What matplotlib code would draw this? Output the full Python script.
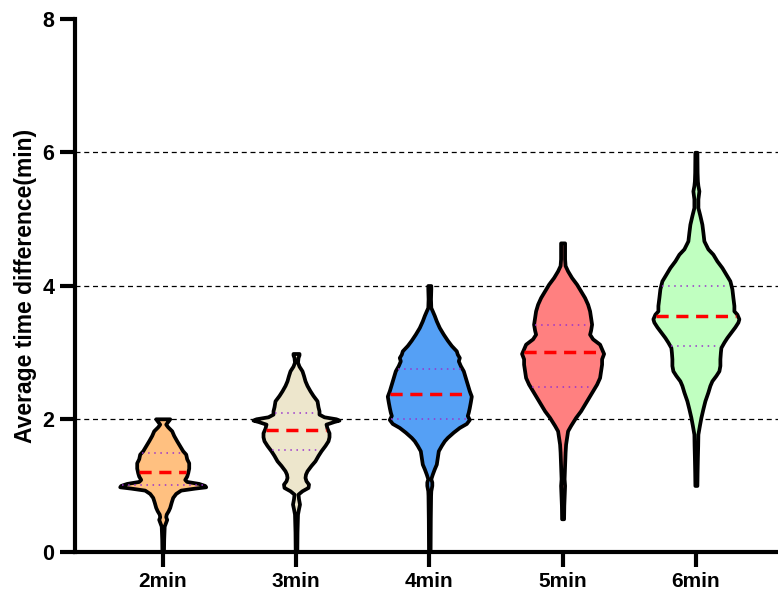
import numpy as np
import matplotlib
matplotlib.use("Agg")
import matplotlib.pyplot as plt

# ----------------------------------------------

groups = ["2min", "3min", "4min", "5min", "6min"]
colors = ["#FFC080", "#EDE6CC", "#55A0F5", "#FF8080", "#C0FFC0"]

medians = [1.20, 1.83, 2.37, 3.00, 3.55]
q1 = [1.00, 1.53, 2.00, 2.48, 3.10]
q3 = [1.48, 2.08, 2.75, 3.41, 4.00]

# violin outlines: value levels and half widths (pixels at 133 px per category)
y_2min = [0.00, 0.20, 0.39, 0.45, 0.49, 0.53, 0.57, 0.62, 0.67, 0.75, 0.82, 0.88, 0.93, 0.96,
          0.98, 1.00, 1.03, 1.06, 1.09, 1.14, 1.19, 1.26, 1.34, 1.40, 1.47, 1.52, 1.57, 1.62,
          1.67, 1.75, 1.82, 1.88, 1.92, 1.96, 2.00]
w_2min = [0.8, 1.0, 1.5, 3, 4, 3, 3.5, 5.5, 7, 8.5, 10, 13, 18, 32,
          43, 42, 36, 24, 22, 24, 25, 26, 26, 24, 23, 20, 18, 16,
          14, 11, 9, 5, 3, 5, 7]

y_3min = [0.00, 0.30, 0.57, 0.65, 0.72, 0.80, 0.87, 0.92, 0.97, 1.02, 1.07, 1.12, 1.17, 1.22,
          1.30, 1.37, 1.45, 1.52, 1.60, 1.67, 1.73, 1.79, 1.86, 1.92, 1.96, 1.98, 2.00, 2.03,
          2.07, 2.12, 2.18, 2.27, 2.35, 2.42, 2.50, 2.57, 2.65, 2.72, 2.79, 2.85, 2.92, 2.96,
          2.98]
w_3min = [0.8, 1.0, 1.5, 2.5, 3.5, 2.5, 2, 6, 12, 12.5, 10, 9, 9.5, 11,
          15, 19, 22, 25, 29, 32, 33, 33, 31, 30, 38, 43, 40, 28,
          23, 23, 22, 21, 17, 14, 11, 9, 7.5, 6, 3, 1.5, 2, 3,
          3]

y_4min = [0.00, 0.50, 0.85, 0.92, 1.00, 1.05, 1.10, 1.17, 1.25, 1.32, 1.42, 1.52, 1.60, 1.67,
          1.72, 1.80, 1.87, 1.93, 1.99, 2.05, 2.10, 2.17, 2.25, 2.34, 2.42, 2.52, 2.62, 2.72,
          2.80, 2.87, 2.92, 2.97, 3.02, 3.10, 3.18, 3.27, 3.37, 3.47, 3.55, 3.62, 3.67, 3.80,
          3.95, 4.00]
w_4min = [0.8, 1.0, 1.3, 1.5, 2.5, 2.5, 1.5, 3, 5, 7, 8, 9, 12, 15,
          18, 24, 30, 37, 40, 38, 39, 40, 41, 42, 40, 38, 36, 34,
          31, 29, 30, 28, 27, 22, 18, 14, 10, 7, 5, 3, 1.5, 1.2,
          1.5, 1.5]

y_5min = [0.50, 0.70, 1.00, 1.10, 1.30, 1.50, 1.62, 1.72, 1.82, 1.90, 2.02, 2.12, 2.22, 2.32,
          2.42, 2.52, 2.62, 2.72, 2.82, 2.90, 2.98, 3.05, 3.12, 3.20, 3.27, 3.33, 3.42, 3.52,
          3.62, 3.72, 3.82, 3.92, 4.02, 4.12, 4.22, 4.30, 4.40, 4.55, 4.64]
w_5min = [1.0, 1.2, 2, 1.5, 2, 2.5, 3, 4, 5, 8, 13, 18, 22, 26,
          30, 34, 37, 38, 39, 39, 41, 39, 37, 30, 27, 28, 29, 28,
          27, 25, 22, 18, 14, 9, 5, 2.5, 2, 2, 2]

y_6min = [1.00, 1.20, 1.42, 1.60, 1.77, 1.90, 2.02, 2.15, 2.27, 2.40, 2.50, 2.57, 2.65, 2.72,
          2.80, 2.90, 3.00, 3.07, 3.15, 3.22, 3.30, 3.38, 3.45, 3.50, 3.57, 3.62, 3.70, 3.82,
          3.95, 4.07, 4.17, 4.27, 4.37, 4.47, 4.55, 4.67, 4.80, 4.92, 5.05, 5.17, 5.30, 5.42,
          5.50, 5.57, 5.70, 6.00]
w_6min = [1.0, 1.2, 1.5, 1.8, 2, 3.5, 5, 7, 9, 12, 14, 16, 20, 23,
          24, 24, 24.5, 25, 28, 31, 35, 39, 42, 43, 41, 38, 38, 37,
          36, 34, 30, 26, 21, 17, 12, 8, 7, 6, 4, 2, 2, 3,
          2, 1.5, 1.2, 1.0]

levels = [y_2min, y_3min, y_4min, y_5min, y_6min]
widths = [w_2min, w_3min, w_4min, w_5min, w_6min]

PX_PER_CAT = 133.3

# ----------------------------------------------

plt.rcParams['font.family'] = ['Liberation Sans', 'DejaVu Sans']
plt.rcParams['font.weight'] = 'bold'

fig = plt.figure(figsize=(7.78, 5.93), dpi=100)
ax = fig.add_axes([0.0964, 0.069, 0.9036, 0.899])

for yv in [2, 4, 6]:
  ax.axhline(yv, color='black', lw=0.9, ls=(0, (4, 3)), zorder=1)

for i, name in enumerate(groups):
  pos = i + 1
  y = np.array(levels[i])
  hw = np.array(widths[i]) / PX_PER_CAT
  ax.fill_betweenx(y, pos - hw, pos + hw, facecolor=colors[i], edgecolor='black',
                   linewidth=2.7, joinstyle='round', zorder=3)
  # quartiles
  for qv in (q1[i], q3[i]):
    w = np.interp(qv, y, hw) - 0.012
    ax.plot([pos - w, pos + w], [qv, qv], color='#9933CC', lw=1.1, ls=(0, (1, 3)), zorder=4)
  # median
  w = np.interp(medians[i], y, hw) - 0.012
  ax.plot([pos - w, pos + w], [medians[i], medians[i]], color='#FF0000', lw=2.5,
          ls=(0, (3.5, 2.2)), zorder=5)

ax.set_xlim(0.342, 5.616)
ax.set_ylim(0, 8)
ax.set_xticks(range(1, len(groups) + 1))
ax.set_xticklabels(groups, fontsize=15, fontweight='bold')
ax.set_yticks([0, 2, 4, 6, 8])
ax.set_yticklabels(['0', '2', '4', '6', '8'], fontsize=15.5, fontweight='bold')
ax.tick_params(axis='x', direction='out', length=11, width=3, pad=3)
ax.tick_params(axis='y', direction='out', length=11, width=3, pad=4)
ax.set_ylabel('Average time difference(min)', fontsize=16.5, fontweight='bold', labelpad=4)

for side in ['top', 'right']:
  ax.spines[side].set_visible(False)
for side in ['left', 'bottom']:
  ax.spines[side].set_linewidth(3)
ax.spines['left'].set_zorder(6)

fig.savefig('out.png', dpi=100)
